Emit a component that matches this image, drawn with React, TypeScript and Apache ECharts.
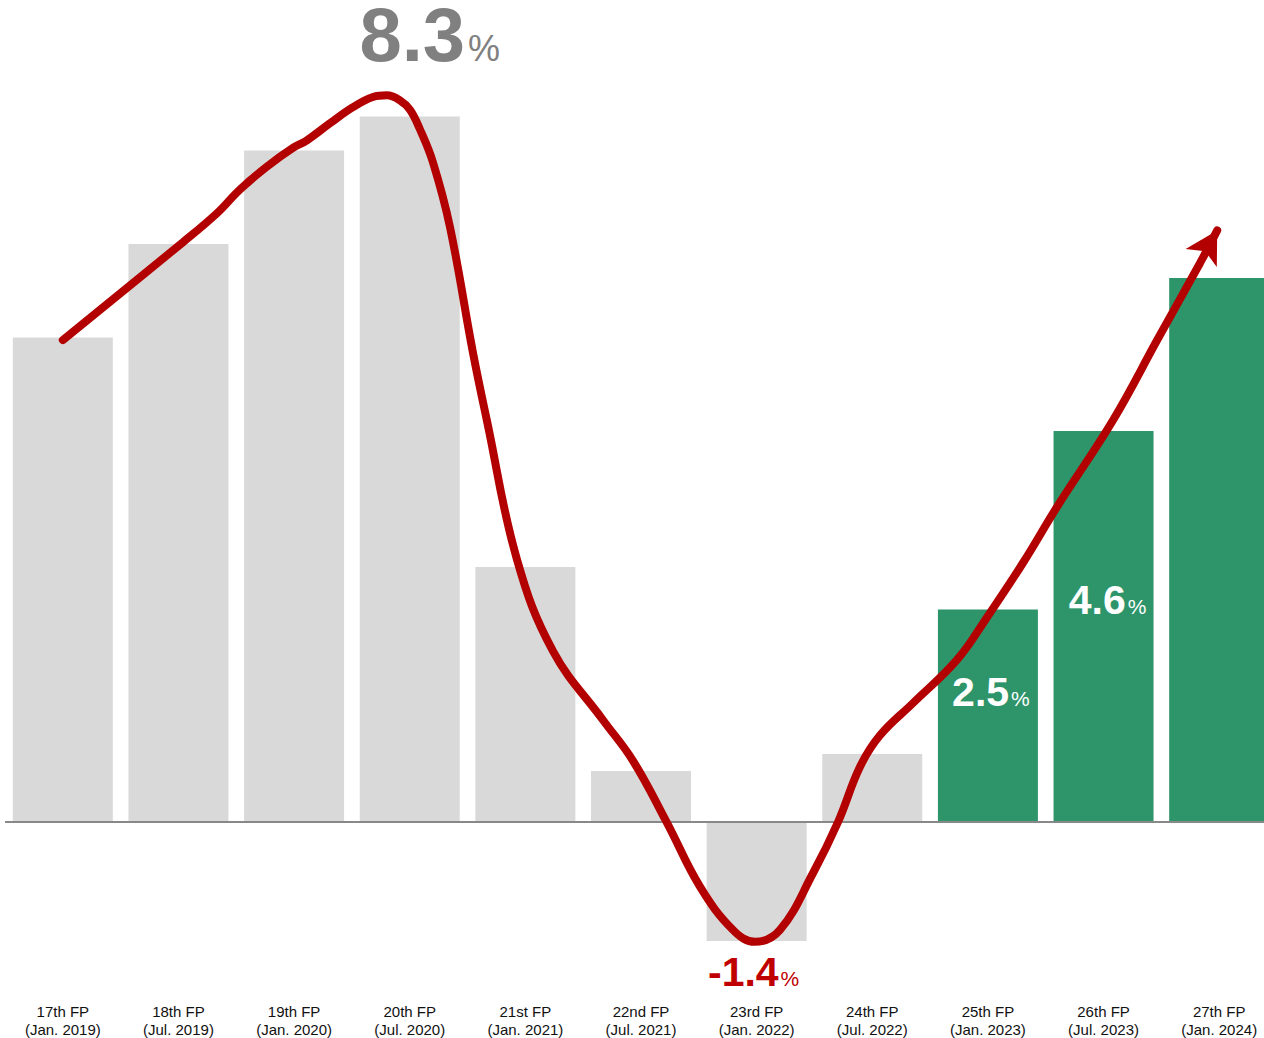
import React, { useEffect, useRef } from "react";
import * as echarts from "echarts";

const categories = [
  "17th FP\n(Jan. 2019)",
  "18th FP\n(Jul. 2019)",
  "19th FP\n(Jan. 2020)",
  "20th FP\n(Jul. 2020)",
  "21st FP\n(Jan. 2021)",
  "22nd FP\n(Jul. 2021)",
  "23rd FP\n(Jan. 2022)",
  "24th FP\n(Jul. 2022)",
  "25th FP\n(Jan. 2023)",
  "26th FP\n(Jul. 2023)",
  "27th FP\n(Jan. 2024)",
];
const barValues = [5.7, 6.8, 7.9, 8.3, 3.0, 0.6, -1.4, 0.8, 2.5, 4.6, 6.4];
const highlighted = [false, false, false, false, false, false, false, false, true, true, true];
const labelText = ["", "", "", "8.3", "", "", "-1.4", "", "2.5", "4.6", ""];

// decorative trend arrow (x in category-index units)
const trendX = [0, 1.038, 1.332, 1.531, 1.765, 1.99, 2.111, 2.31, 2.509, 2.682, 2.803, 2.915, 3.002, 3.088, 3.201, 3.348, 3.547, 3.668, 3.927, 4.239, 4.671, 4.931, 5.225, 5.51, 5.796, 5.986, 6.202, 6.488, 6.704, 6.894, 7.067, 7.353, 7.734, 7.993, 8.304, 8.599, 9.083, 9.464, 9.836, 9.983];
const trendY = [5.67, 6.82, 7.16, 7.44, 7.71, 7.93, 8.02, 8.22, 8.41, 8.53, 8.55, 8.49, 8.38, 8.15, 7.76, 7.0, 5.52, 4.72, 3.09, 2.01, 1.2, 0.72, -0.01, -0.76, -1.27, -1.41, -1.27, -0.6, 0.0, 0.65, 1.02, 1.4, 1.91, 2.41, 3.05, 3.71, 4.73, 5.67, 6.58, 6.96];

const FONT = "Liberation Sans, Arial, sans-serif";
const GRAY = "#d9d9d9";
const GREEN = "#2e946a";
const RED = "#b30000";

export default function App() {
  const ref = useRef<HTMLDivElement>(null);
  useEffect(() => {
    if (!ref.current) return;
    const chart = echarts.init(ref.current, undefined, { renderer: "svg" });

    const barData = barValues.map((v, i) => {
      const item: any = {
        value: v,
        itemStyle: { color: highlighted[i] ? GREEN : GRAY },
      };
      const t = labelText[i];
      if (t) {
        if (i === 3) {
          item.label = {
            show: true,
            position: "top",
            distance: 44,
            offset: [20, 0],
            formatter: `{a|${t}}{b|%}`,
            rich: {
              a: { fontSize: 76, fontWeight: "bold", color: "#808080", fontFamily: FONT, lineHeight: 60, verticalAlign: "bottom" },
              b: { fontSize: 36, color: "#808080", fontFamily: FONT, verticalAlign: "bottom", padding: [0, 0, 6, 3] },
            },
          };
        } else if (v < 0) {
          item.label = {
            show: true,
            position: "bottom",
            distance: 10,
            offset: [-3, 0],
            formatter: `{a|${t}}{b|%}`,
            rich: {
              a: { fontSize: 41, fontWeight: "bold", color: "#c00000", fontFamily: FONT, verticalAlign: "bottom" },
              b: { fontSize: 21, color: "#c00000", fontFamily: FONT, verticalAlign: "bottom", padding: [0, 0, 3, 2] },
            },
          };
        } else {
          item.label = {
            show: true,
            position: "inside",
            offset: [i === 8 ? 3 : 4, i === 8 ? -24 : -27],
            formatter: `{a|${t}}{b|%}`,
            rich: {
              a: { fontSize: 41, fontWeight: "bold", color: "#ffffff", fontFamily: FONT, verticalAlign: "bottom" },
              b: { fontSize: 21, color: "#ffffff", fontFamily: FONT, verticalAlign: "bottom", padding: [0, 0, 3, 2] },
            },
          };
        }
      }
      return item;
    });

    const n = trendX.length;
    const lineData = trendX.map((x, i) =>
      i === n - 1
        ? {
            value: [x, trendY[i]],
            symbol: "arrow",
            symbolSize: [27, 32],
            symbolRotate: -30,
            itemStyle: { color: RED },
          }
        : { value: [x, trendY[i]] }
    );

    chart.setOption({
      animation: false,
      backgroundColor: "#ffffff",
      grid: { left: 5, right: 8, top: 57, bottom: 46, containLabel: false },
      xAxis: [
        {
          type: "category",
          data: categories,
          axisLine: { show: false },
          axisTick: { show: false },
          axisLabel: {
            interval: 0,
            margin: 10,
            fontSize: 15,
            lineHeight: 18,
            color: "#111111",
            fontFamily: FONT,
          },
        },
        {
          type: "value",
          min: -0.5,
          max: 10.5,
          show: false,
          splitLine: { show: false },
        },
      ],
      yAxis: {
        type: "value",
        min: -2,
        max: 9,
        show: false,
        splitLine: { show: false },
      },
      series: [
        {
          type: "bar",
          data: barData,
          barWidth: 100,
          z: 2,
          markLine: {
            silent: true,
            symbol: "none",
            label: { show: false },
            lineStyle: { color: "#888888", width: 2, type: "solid" },
            data: [{ yAxis: 0 }],
          },
        },
        {
          type: "line",
          xAxisIndex: 1,
          data: lineData,
          smooth: 0.4,
          symbol: "none",
          showSymbol: true,
          z: 5,
          lineStyle: { color: RED, width: 8, cap: "round" },
          itemStyle: { color: RED },
        },
      ],
    });
    return () => chart.dispose();
  }, []);
  return (
    <div style={{ position: "absolute", left: 0, top: 0, width: 1264, height: 1038, overflow: "hidden", background: "#fff" }}>
      <div ref={ref} style={{ width: 1285, height: 1038 }} />
    </div>
  );
}
